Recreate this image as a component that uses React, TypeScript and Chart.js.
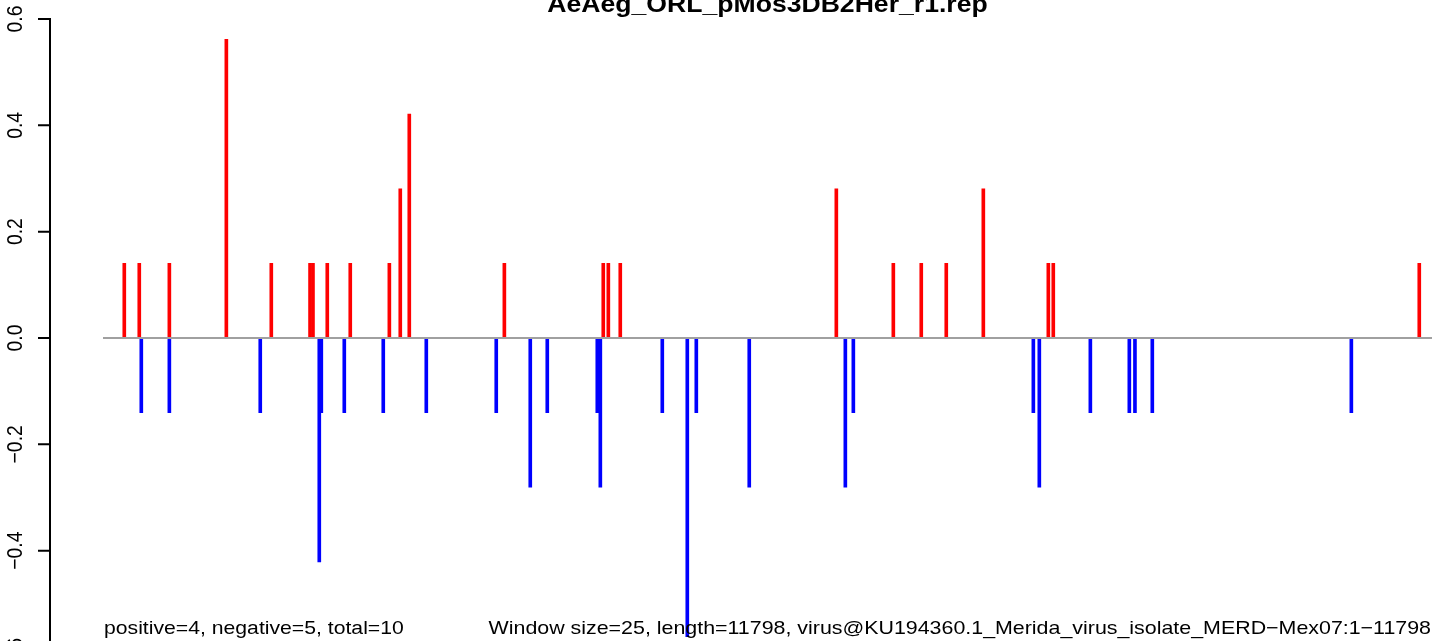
import React, { useEffect, useRef } from "react";
import { Chart, registerables } from "chart.js";

Chart.register(...registerables);

const titleText = "AeAeg_ORL_pMos3DB2Her_r1.rep";
const leftNote = "positive=4, negative=5, total=10";
const rightNote =
  "Window size=25, length=11798, virus@KU194360.1_Merida_virus_isolate_MERD\u2212Mex07:1\u221211798";
const seqLength = 11798;
const yTicks = [-0.6, -0.4, -0.2, 0, 0.2, 0.4, 0.6];

const posPositions = [
  189, 322, 589, 1095, 1494, 1838, 1864, 1991, 2195, 2542, 2639, 2719, 3563,
  4441, 4486, 4592, 6510, 7016, 7264, 7486, 7815, 8392, 8436, 11685,
];
const posValues = [
  0.1404, 0.1404, 0.1404, 0.5616, 0.1404, 0.1404, 0.1404, 0.1404, 0.1404,
  0.1404, 0.2808, 0.4212, 0.1404, 0.1404, 0.1404, 0.1404, 0.2808, 0.1404,
  0.1404, 0.1404, 0.2808, 0.1404, 0.1404, 0.1404,
];
const negPositions = [
  340, 589, 1396, 1920, 1938, 2142, 2488, 2870, 3491, 3793, 3944, 4388, 4415,
  4965, 5187, 5267, 5737, 6590, 6661, 8259, 8312, 8765, 9111, 9161, 9315,
  11082,
];
const negValues = [
  -0.1404, -0.1404, -0.1404, -0.4212, -0.1404, -0.1404, -0.1404, -0.1404,
  -0.1404, -0.2808, -0.1404, -0.1404, -0.2808, -0.1404, -0.5616, -0.1404,
  -0.2808, -0.2808, -0.1404, -0.1404, -0.2808, -0.1404, -0.1404, -0.1404,
  -0.1404, -0.1404,
];

const FONT = '"Liberation Sans", Arial, Helvetica, sans-serif';
const VSCALE = 0.88;

function fmtTick(v: number): string {
  const s = Math.abs(v).toFixed(1);
  return v < 0 ? "\u2212" + s : s;
}

export default function App() {
  const ref = useRef<HTMLCanvasElement>(null);

  useEffect(() => {
    const canvas = ref.current;
    if (!canvas) return;

    const drawText = (
      ctx: CanvasRenderingContext2D,
      text: string,
      x: number,
      y: number,
      size: number,
      bold: boolean,
      align: CanvasTextAlign,
      rotate: boolean
    ) => {
      ctx.save();
      ctx.translate(x, y);
      ctx.scale(1, VSCALE);
      if (rotate) ctx.rotate(-Math.PI / 2);
      ctx.font = `${bold ? "bold " : ""}${size}px ${FONT}`;
      ctx.fillStyle = "#000";
      ctx.textAlign = align;
      ctx.textBaseline = "alphabetic";
      ctx.fillText(text, 0, 0);
      ctx.restore();
    };

    const overlay = {
      id: "overlay",
      afterDatasetsDraw(chart: any) {
        const { ctx, chartArea, scales } = chart;
        const ys = scales.y;
        const y0 = ys.getPixelForValue(0);
        ctx.save();
        // zero line
        ctx.strokeStyle = "#a0a0a0";
        ctx.lineWidth = 2;
        ctx.beginPath();
        ctx.moveTo(chartArea.left, y0);
        ctx.lineTo(chartArea.right, y0);
        ctx.stroke();
        // y axis
        const axisX = 50;
        const yTop = ys.getPixelForValue(yTicks[yTicks.length - 1]);
        const yBot = ys.getPixelForValue(yTicks[0]);
        ctx.strokeStyle = "#000";
        ctx.lineWidth = 2;
        ctx.beginPath();
        ctx.moveTo(axisX, yTop);
        ctx.lineTo(axisX, yBot);
        for (const t of yTicks) {
          const py = ys.getPixelForValue(t);
          ctx.moveTo(axisX - 12, py);
          ctx.lineTo(axisX + 1, py);
        }
        ctx.stroke();
        for (const t of yTicks) {
          const py = ys.getPixelForValue(t);
          drawText(ctx, fmtTick(t), 21.7, py, 22, false, "center", true);
        }
        // title
        drawText(
          ctx,
          titleText,
          (chartArea.left + chartArea.right) / 2,
          12,
          26.6,
          true,
          "center",
          false
        );
        // bottom notes
        drawText(ctx, leftNote, chartArea.left + 1, 634, 21.2, false, "left", false);
        drawText(ctx, rightNote, chartArea.right - 1, 634, 21.4, false, "right", false);
        ctx.restore();
      },
    };

    const chart = new Chart(canvas, {
      type: "bar",
      data: {
        datasets: [
          {
            label: "positive",
            data: posPositions.map((x, i) => ({ x, y: posValues[i] })),
            backgroundColor: "#ff0000",
            borderWidth: 0,
            barThickness: 3,
            grouped: false,
          } as any,
          {
            label: "negative",
            data: negPositions.map((x, i) => ({ x, y: negValues[i] })),
            backgroundColor: "#0000ff",
            borderWidth: 0,
            barThickness: 3,
            grouped: false,
          } as any,
        ],
      },
      options: {
        animation: false,
        responsive: false,
        devicePixelRatio: 1,
        layout: { padding: { left: 103, right: 7, top: 19, bottom: 43 } },
        plugins: {
          legend: { display: false },
          title: { display: false },
          tooltip: { enabled: false },
        },
        scales: {
          x: {
            type: "linear",
            min: 0,
            max: seqLength,
            display: false,
            offset: false,
          },
          y: {
            type: "linear",
            min: yTicks[0],
            max: yTicks[yTicks.length - 1],
            display: false,
          },
        },
      },
      plugins: [overlay],
    });

    return () => chart.destroy();
  }, []);

  return (
    <div
      style={{
        position: "fixed",
        left: 0,
        top: 0,
        width: 1439,
        height: 641,
        overflow: "hidden",
        background: "#fff",
      }}
    >
      <canvas ref={ref} width={1439} height={700} style={{ display: "block" }} />
    </div>
  );
}
